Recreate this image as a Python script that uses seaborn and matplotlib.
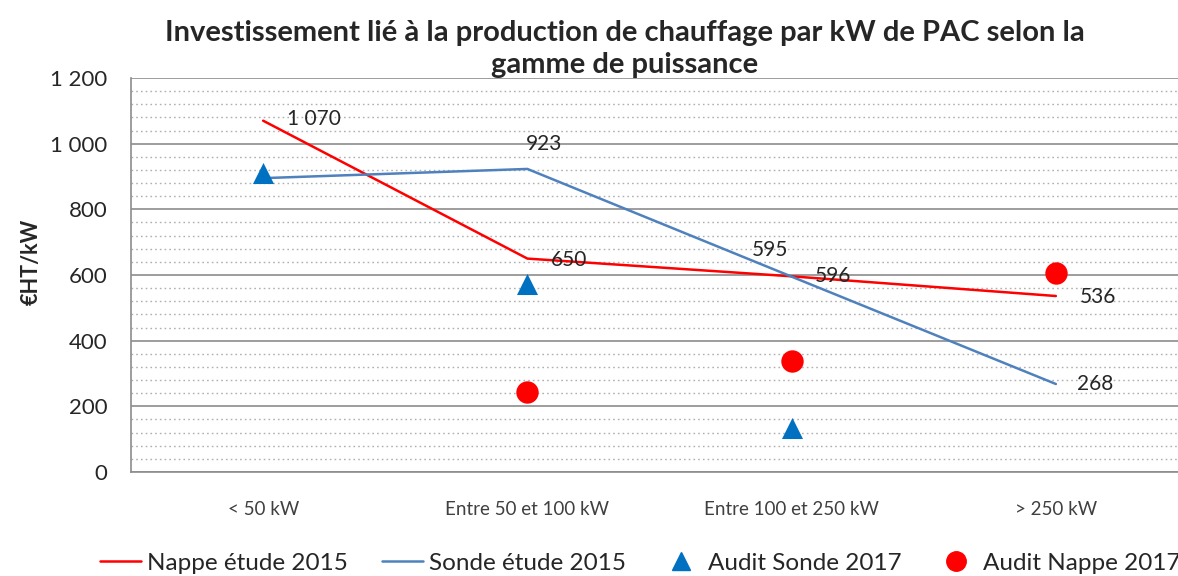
import matplotlib
matplotlib.use("Agg")
import matplotlib.pyplot as plt
import seaborn as sns
import pandas as pd
import numpy as np
from matplotlib.ticker import MultipleLocator, FuncFormatter
from matplotlib.lines import Line2D

categories = ["< 50 kW", "Entre 50 et 100 kW", "Entre 100 et 250 kW", "> 250 kW"]
nappe_2015 = [1070, 650, 596, 536]
sonde_2015 = [895, 923, 595, 268]
audit_sonde_cats = ["< 50 kW", "Entre 50 et 100 kW", "Entre 100 et 250 kW"]
audit_sonde_2017 = [910, 573, 134]
audit_nappe_cats = ["Entre 50 et 100 kW", "Entre 100 et 250 kW", "> 250 kW"]
audit_nappe_2017 = [244, 337, 606]
nappe_labels = ["1 070", "650", "596", "536"]
sonde_labels = [None, "923", "595", "268"]

sns.set_theme(style="white")
plt.rcParams['font.family'] = ['Lato', 'DejaVu Sans']

pos = {c: i for i, c in enumerate(categories)}
df_lines = pd.DataFrame({
    "x": [pos[c] for c in categories] * 2,
    "y": nappe_2015 + sonde_2015,
    "serie": ["Nappe étude 2015"] * 4 + ["Sonde étude 2015"] * 4,
})
df_sonde = pd.DataFrame({"x": [pos[c] for c in audit_sonde_cats], "y": audit_sonde_2017})
df_nappe = pd.DataFrame({"x": [pos[c] for c in audit_nappe_cats], "y": audit_nappe_2017})

fig = plt.figure(figsize=(11.78, 5.76), dpi=100)
ax = fig.add_axes([131/1178, 104/576, (1188-131)/1178, (472-78)/576])

red = "#FF0000"
blue = "#4F81BD"
tri = "#0070C0"

sns.lineplot(data=df_lines, x="x", y="y", hue="serie", palette=[red, blue],
             linewidth=1.8, ax=ax, legend=False, sort=False)
sns.scatterplot(data=df_sonde, x="x", y="y", marker="^", s=230, color=tri,
                edgecolor=tri, linewidth=0, ax=ax, zorder=5, legend=False)
sns.scatterplot(data=df_nappe, x="x", y="y", marker="o", s=260, color=red,
                edgecolor=red, linewidth=0, ax=ax, zorder=5, legend=False)

ax.set_xlim(-0.5, 3.5)
ax.set_ylim(0, 1200)
ax.yaxis.set_major_locator(MultipleLocator(200))
ax.yaxis.set_minor_locator(MultipleLocator(40))
ax.yaxis.set_major_formatter(FuncFormatter(lambda v, p: f"{int(v):,}".replace(",", " ")))
ax.grid(which="major", axis="y", color="#8C8C8C", linewidth=1.2, linestyle="-")
ax.grid(which="minor", axis="y", color="#B0B0B0", linewidth=1.0, linestyle=(0, (1.2, 2.2)))
ax.set_axisbelow(True)
ax.set_xticks(range(len(categories)))
ax.set_xticklabels(categories, fontsize=13.5, color="#404040")
ax.tick_params(axis="x", pad=21, length=0)
ax.tick_params(axis="y", labelsize=16, pad=17, length=0, which="both")
for s in ["left", "bottom"]:
    ax.spines[s].set_color("#8C8C8C")
    ax.spines[s].set_linewidth(1.2)
for s in ["top", "right"]:
    ax.spines[s].set_visible(False)
ax.set_xlabel("")
ax.set_ylabel("€HT/kW", fontsize=15.5, fontweight="bold")
ax.yaxis.set_label_coords(-0.084, 0.533)

# data labels (offsets in points)
nappe_off = [(17, 1), (17, -1), (17, 0), (17, -1)]
for i, (v, t) in enumerate(zip(nappe_2015, nappe_labels)):
    ax.annotate(t, (i, v), xytext=nappe_off[i], textcoords="offset points",
                fontsize=15, ha="left", va="center")
sonde_off = [None, (-1, 18), (-29, 19), (15, 0)]
for i, (v, t) in enumerate(zip(sonde_2015, sonde_labels)):
    if t is None:
        continue
    ax.annotate(t, (i, v), xytext=sonde_off[i], textcoords="offset points",
                fontsize=15, ha="left", va="center")

fig.text(625/1178, 1 - 49/576,
         "Investissement lié à la production de chauffage par kW de PAC selon la\ngamme de puissance",
         ha="center", va="center", fontsize=21, fontweight="bold", linespacing=1.3)

handles = [
    Line2D([0], [0], color=red, lw=1.8),
    Line2D([0], [0], color=blue, lw=1.8),
    Line2D([0], [0], color=tri, marker="^", lw=0, markersize=13),
    Line2D([0], [0], color=red, marker="o", lw=0, markersize=14),
]
labels = ["Nappe étude 2015", "Sonde étude 2015", "Audit Sonde 2017", "Audit Nappe 2017"]
fig.legend(handles, labels, loc="center", bbox_to_anchor=(640/1178, 1 - 563/576),
           ncol=4, frameon=False, fontsize=17.5, handlelength=1.7, handletextpad=0.25,
           columnspacing=1.4)

fig.savefig("out.png", dpi=100)
